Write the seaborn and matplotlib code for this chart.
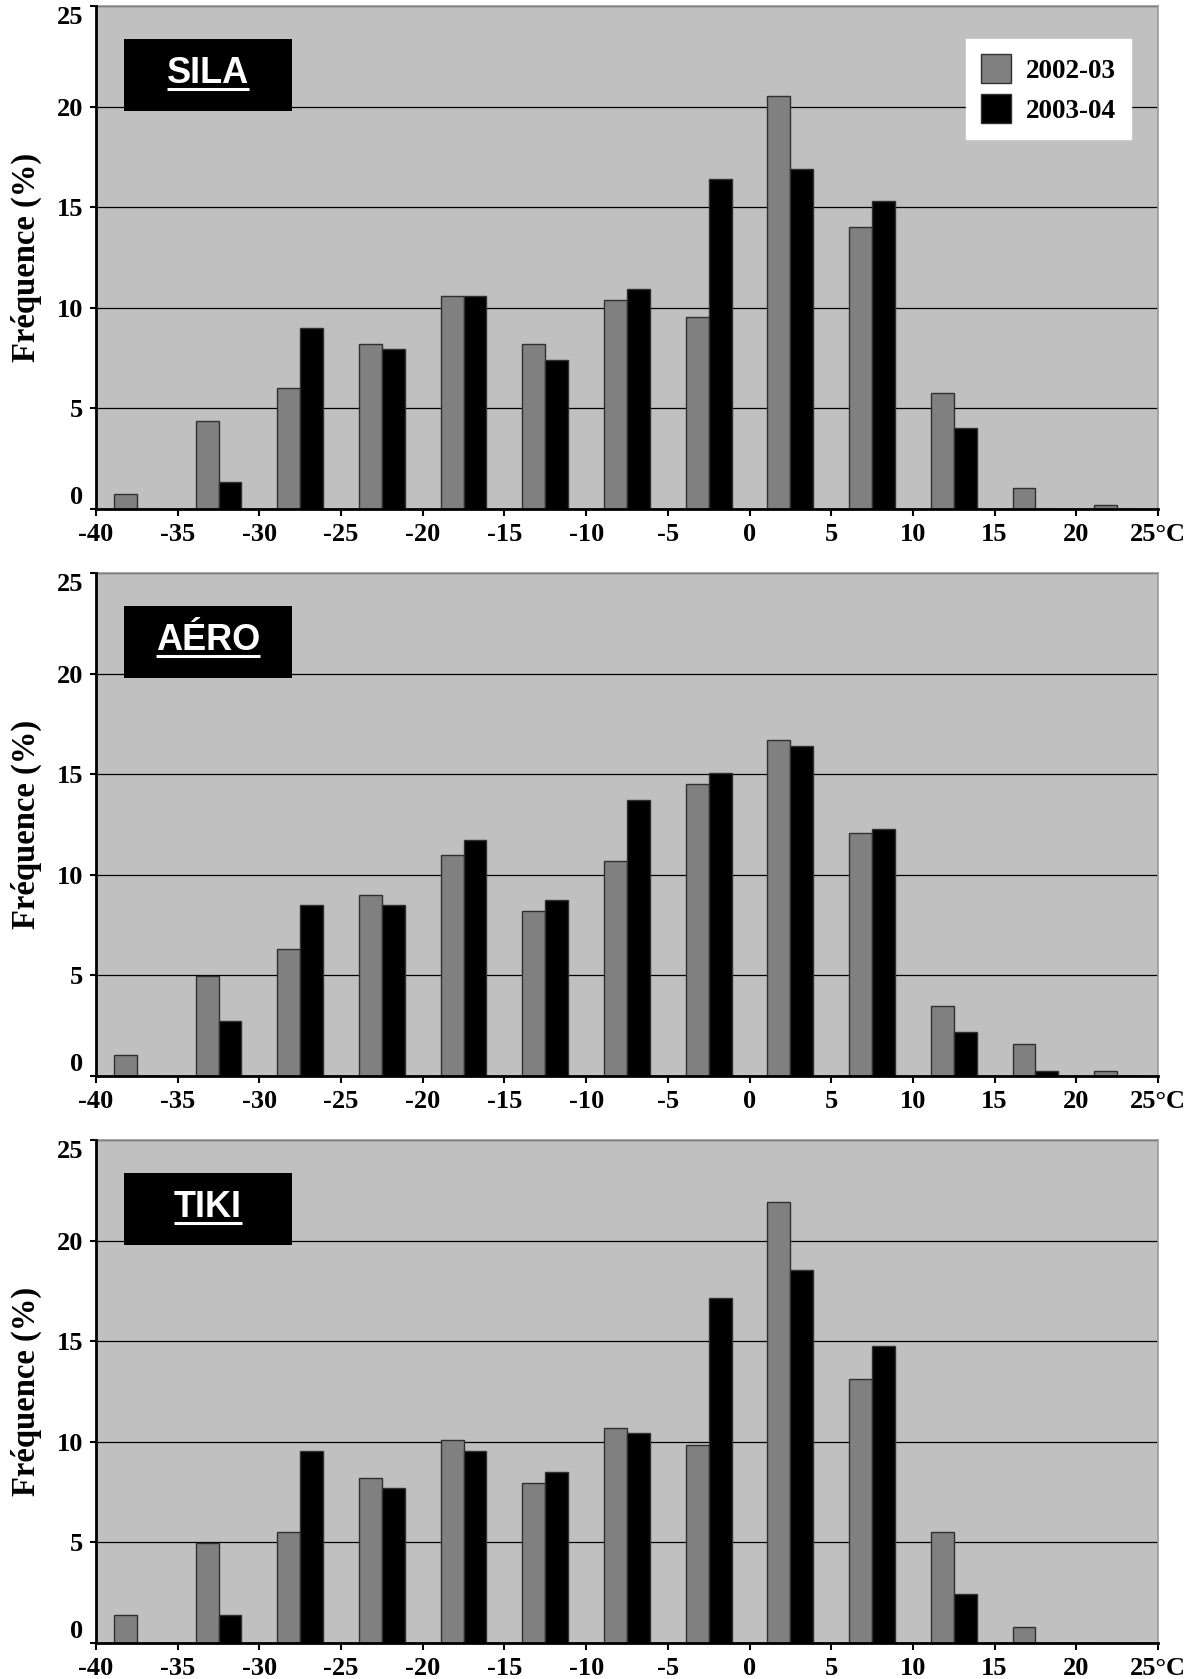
import matplotlib
matplotlib.use('Agg')
import matplotlib.pyplot as plt
from matplotlib.patches import Rectangle, Patch
from matplotlib.lines import Line2D
import numpy as np
import pandas as pd
import seaborn as sns

# Temperature classes (centre of each 5 degree bin)
bin_centres = [-37.5, -32.5, -27.5, -22.5, -17.5, -12.5, -7.5, -2.5, 2.5, 7.5, 12.5, 17.5, 22.5]
seasons = ['2002-03', '2003-04']

# Frequencies (%)
sila_0203 = [0.75, 4.4, 6.0, 8.2, 10.6, 8.2, 10.4, 9.55, 20.55, 14.0, 5.75, 1.05, 0.2]
sila_0304 = [0, 1.35, 9.0, 7.95, 10.6, 7.4, 10.95, 16.4, 16.9, 15.3, 4.05, 0, 0]
aero_0203 = [1.07, 4.97, 6.3, 9.0, 11.0, 8.2, 10.7, 14.5, 16.7, 12.07, 3.5, 1.6, 0.25]
aero_0304 = [0, 2.72, 8.5, 8.5, 11.75, 8.76, 13.7, 15.05, 16.4, 12.3, 2.2, 0.25, 0]
tiki_0203 = [1.4, 4.97, 5.5, 8.22, 10.1, 7.96, 10.7, 9.83, 21.9, 13.14, 5.5, 0.8, 0]
tiki_0304 = [0, 1.4, 9.56, 7.7, 9.56, 8.5, 10.42, 17.15, 18.54, 14.74, 2.46, 0, 0]

stations = ['SILA', 'AÉRO', 'TIKI']
station_data = {'SILA': (sila_0203, sila_0304),
                'AÉRO': (aero_0203, aero_0304),
                'TIKI': (tiki_0203, tiki_0304)}

x_ticks = [-40, -35, -30, -25, -20, -15, -10, -5, 0, 5, 10, 15, 20, 25]
x_ticklabels = ['-40', '-35', '-30', '-25', '-20', '-15', '-10', '-5', '0', '5', '10', '15', '20', '25°C']
y_ticks = [0, 5, 10, 15, 20, 25]

colors = {'2002-03': '#808080', '2003-04': '#000000'}
serif = 'Liberation Serif'
sans = 'Liberation Sans'

fig = plt.figure(figsize=(11.94, 16.79), dpi=100)
W, H = 1194, 1679
bottoms = [0.6968, 0.3591, 0.0214]

title_texts = []
for i, name in enumerate(stations):
    ax = fig.add_axes([0.0804, bottoms[i], 0.8894, 0.2996])
    v1, v2 = station_data[name]
    df = pd.DataFrame({
        'temp': bin_centres * 2,
        'freq': v1 + v2,
        'season': [seasons[0]] * len(v1) + [seasons[1]] * len(v2),
    })
    sns.barplot(data=df, x='temp', y='freq', hue='season', hue_order=seasons,
                palette=colors, native_scale=True, width=0.56, gap=0, dodge=True,
                saturation=1, errorbar=None, edgecolor='#303030', linewidth=1,
                legend=False, ax=ax, zorder=3)

    ax.set_facecolor('#c0c0c0')
    ax.set_xlim(-40, 25)
    ax.set_ylim(0, 25)
    ax.set_xlabel('')
    ax.set_ylabel('Fréquence (%)', fontfamily=serif, fontweight='bold', fontsize=23.5)
    ax.yaxis.label.set_va('center')
    ax.yaxis.set_label_coords(-0.066, 0.5)

    ax.set_xticks(x_ticks)
    ax.set_xticklabels(x_ticklabels, fontfamily=serif, fontweight='bold', fontsize=19)
    ax.set_yticks(y_ticks)
    ax.set_yticklabels([str(v) for v in y_ticks], fontfamily=serif, fontweight='bold', fontsize=19)
    ylabels = ax.get_yticklabels()
    ylabels[0].set_va('bottom')
    ylabels[-1].set_va('top')
    ax.tick_params(axis='x', length=5, width=1.5, pad=5, direction='out')
    ax.tick_params(axis='y', length=4, width=1.5, pad=5, direction='out')

    ax.set_axisbelow(True)
    ax.yaxis.grid(True, color='black', linewidth=0.9)
    ax.xaxis.grid(False)
    for s in ['left', 'bottom']:
        ax.spines[s].set_linewidth(2)
        ax.spines[s].set_color('black')
        ax.spines[s].set_zorder(5)
    for s in ['top', 'right']:
        ax.spines[s].set_linewidth(1.2)
        ax.spines[s].set_color('#9a9a9a')

    # station label box
    ax.add_patch(Rectangle((-38.3, 19.8), 10.3, 3.55, facecolor='black',
                           edgecolor='none', zorder=6))
    t = ax.text(-33.15, 21.17, name, color='white', fontfamily=sans,
                fontweight='bold', fontsize=26, ha='center', va='baseline', zorder=7)
    title_texts.append((ax, t))

    if i == 0:
        handles = [Patch(facecolor=colors[s], edgecolor='#303030', linewidth=1) for s in seasons]
        leg = ax.legend(handles, seasons, loc='upper right', bbox_to_anchor=(0.9746, 0.934),
                        borderaxespad=0, frameon=True, fancybox=False, framealpha=1,
                        facecolor='white', edgecolor='white', borderpad=0.55,
                        handlelength=1.1, handleheight=1.25, handletextpad=0.55,
                        labelspacing=0.4,
                        prop={'family': serif, 'weight': 'bold', 'size': 19.5})
        leg.set_zorder(8)

# underline station names
fig.canvas.draw()
renderer = fig.canvas.get_renderer()
for ax, t in title_texts:
    bb = t.get_window_extent(renderer)
    base_y = ax.transData.transform((0, 21.17))[1] - 6
    fig.add_artist(Line2D([bb.x0 / W, bb.x1 / W], [base_y / H, base_y / H],
                          color='white', linewidth=2.2, solid_capstyle='butt', zorder=10))

fig.savefig('out.png', dpi=100)
